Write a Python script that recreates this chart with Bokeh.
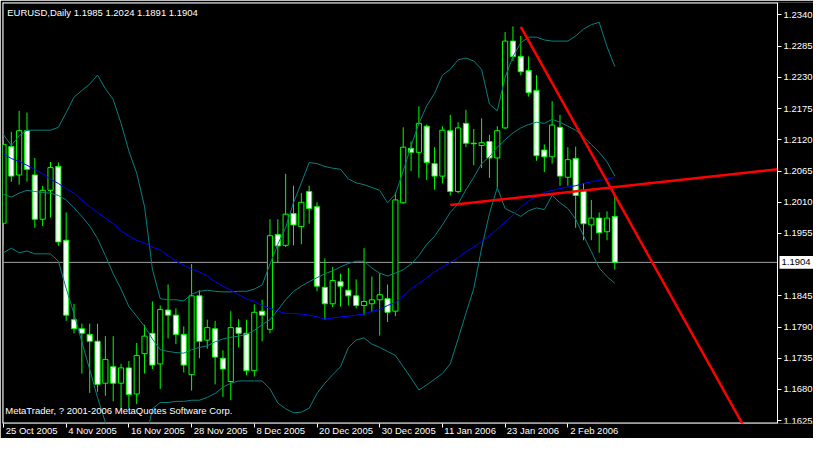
from bokeh.plotting import figure
from bokeh.models import (ColumnDataSource, FixedTicker, PrintfTickFormatter, Label,
                          Range1d)
from bokeh.core.properties import value
from bokeh.embed import file_html
from bokeh.resources import INLINE

# ---------------- data (EURUSD daily, 25 Oct 2005 .. 10 Feb 2006) ----------------
OPEN = [1.1973, 1.2108, 1.2058, 1.2136, 1.2058, 1.1980, 1.2031, 1.2073, 1.1943, 1.1803,
        1.1787, 1.1777, 1.1765, 1.1691, 1.1720, 1.1691, 1.1718, 1.1672, 1.1743, 1.1779,
        1.1725, 1.1820, 1.1811, 1.1777, 1.1706, 1.1845, 1.1767, 1.1787, 1.1735, 1.1694,
        1.1789, 1.1779, 1.1713, 1.1818, 1.1786, 1.1953, 1.1934, 1.1990, 1.1967, 1.2029,
        1.2002, 1.1860, 1.1831, 1.1870, 1.1855, 1.1845, 1.1828, 1.1831, 1.1838, 1.1840,
        1.1818, 1.2009, 1.2105, 1.2098, 1.2144, 1.2078, 1.2056, 1.2136, 1.2029, 1.2149,
        1.2114, 1.2110, 1.2117, 1.2088, 1.2141, 1.2294, 1.2267, 1.2242, 1.2207, 1.2102,
        1.2090, 1.2142, 1.2054, 1.2087, 1.2031, 1.1970, 1.1982, 1.1958, 1.1985]
HIGH = [1.2119, 1.2134, 1.2171, 1.2168, 1.2088, 1.2039, 1.2081, 1.2080, 1.1992, 1.1831,
        1.1796, 1.1796, 1.1796, 1.1774, 1.1774, 1.1725, 1.1730, 1.1762, 1.1794, 1.1835,
        1.1828, 1.1865, 1.1823, 1.1791, 1.1901, 1.1855, 1.1803, 1.1801, 1.1749, 1.1818,
        1.1804, 1.1803, 1.1830, 1.1838, 1.1980, 1.1980, 1.2060, 1.2039, 1.2026, 1.2039,
        1.2010, 1.1911, 1.1896, 1.1884, 1.1894, 1.1874, 1.1929, 1.1879, 1.1885, 1.1865,
        1.2027, 1.2142, 1.2117, 1.2179, 1.2147, 1.2107, 1.2144, 1.2164, 1.2151, 1.2173,
        1.2139, 1.2158, 1.2129, 1.2144, 1.2310, 1.2320, 1.2303, 1.2267, 1.2234, 1.2112,
        1.2188, 1.2164, 1.2107, 1.2108, 1.2044, 1.2014, 1.1992, 1.1994, 1.2024]
LOW = [1.1933, 1.2046, 1.2041, 1.2046, 1.1965, 1.1968, 1.1983, 1.1933, 1.1801, 1.1779,
       1.1708, 1.1674, 1.1676, 1.1669, 1.1659, 1.1647, 1.1647, 1.1654, 1.1708, 1.1716,
       1.1681, 1.1770, 1.1760, 1.1710, 1.1678, 1.1735, 1.1752, 1.1689, 1.1667, 1.1661,
       1.1754, 1.1705, 1.1703, 1.1765, 1.1779, 1.1904, 1.1931, 1.1934, 1.1936, 1.1972,
       1.1853, 1.1803, 1.1825, 1.1826, 1.1828, 1.1823, 1.1811, 1.1816, 1.1775, 1.1799,
       1.1809, 1.2007, 1.2065, 1.2053, 1.2049, 1.2032, 1.2043, 1.2022, 1.2026, 1.2107,
       1.2075, 1.2070, 1.2053, 1.2036, 1.2139, 1.2259, 1.2234, 1.2196, 1.2083, 1.2063,
       1.2078, 1.2039, 1.2039, 1.1965, 1.1943, 1.1943, 1.1921, 1.1943, 1.1891]
CLOSE = [1.2112, 1.2056, 1.2136, 1.2068, 1.1980, 1.2031, 1.2071, 1.1940, 1.1811, 1.1787,
         1.1779, 1.1765, 1.1689, 1.1733, 1.1691, 1.1718, 1.1671, 1.1740, 1.1774, 1.1723,
         1.1821, 1.1811, 1.1777, 1.1723, 1.1845, 1.1765, 1.1789, 1.1737, 1.1716, 1.1789,
         1.1779, 1.1713, 1.1816, 1.1811, 1.1951, 1.1933, 1.1989, 1.1970, 1.2010, 1.1999,
         1.1862, 1.1831, 1.1872, 1.1862, 1.1845, 1.1828, 1.1835, 1.1838, 1.1847, 1.1816,
         1.2014, 1.2107, 1.2098, 1.2149, 1.2080, 1.2056, 1.2137, 1.2029, 1.2141, 1.2114,
         1.2113, 1.2115, 1.2088, 1.2136, 1.2294, 1.2267, 1.2240, 1.2203, 1.2092, 1.2090,
         1.2146, 1.2056, 1.2085, 1.2022, 1.1972, 1.1982, 1.1956, 1.1982, 1.1904]

BB_UPPER = [1.2129, 1.2110, 1.2127, 1.2137, 1.2137, 1.2137, 1.2137, 1.2142, 1.2168, 1.2195,
            1.2207, 1.2218, 1.2234, 1.2210, 1.2191, 1.2149, 1.2100, 1.2061, 1.2002, 1.1892,
            1.1840, 1.1838, 1.1838, 1.1836, 1.1848, 1.1853, 1.1855, 1.1853, 1.1852, 1.1852,
            1.1853, 1.1853, 1.1857, 1.1864, 1.1901, 1.1936, 1.1965, 1.2009, 1.2044, 1.2080,
            1.2078, 1.2073, 1.2070, 1.2068, 1.2051, 1.2044, 1.2041, 1.2036, 1.2031, 1.2009,
            1.2024, 1.2065, 1.2109, 1.2149, 1.2180, 1.2202, 1.2234, 1.2244, 1.2261, 1.2264,
            1.2259, 1.2244, 1.2183, 1.2171, 1.2230, 1.2267, 1.2291, 1.2301, 1.2301, 1.2296,
            1.2294, 1.2294, 1.2294, 1.2303, 1.2315, 1.2323, 1.2327, 1.2284, 1.2249]
BB_MIDDLE = [1.2024, 1.2019, 1.2026, 1.2031, 1.2029, 1.2027, 1.2026, 1.2022, 1.2014, 1.2000,
             1.1985, 1.1968, 1.1946, 1.1916, 1.1884, 1.1857, 1.1826, 1.1809, 1.1791, 1.1769,
             1.1750, 1.1747, 1.1745, 1.1744, 1.1750, 1.1754, 1.1757, 1.1764, 1.1769, 1.1772,
             1.1774, 1.1777, 1.1784, 1.1794, 1.1803, 1.1820, 1.1838, 1.1853, 1.1862, 1.1870,
             1.1877, 1.1884, 1.1889, 1.1896, 1.1902, 1.1906, 1.1906, 1.1894, 1.1885, 1.1880,
             1.1885, 1.1891, 1.1901, 1.1916, 1.1936, 1.1950, 1.1970, 1.1992, 1.2007, 1.2032,
             1.2054, 1.2078, 1.2090, 1.2107, 1.2120, 1.2132, 1.2141, 1.2147, 1.2151, 1.2149,
             1.2156, 1.2151, 1.2144, 1.2137, 1.2125, 1.2112, 1.2098, 1.2081, 1.2056]
BB_LOWER = [1.1921, 1.1929, 1.1921, 1.1924, 1.1919, 1.1919, 1.1919, 1.1906, 1.1858, 1.1813,
            1.1764, 1.1715, 1.1666, 1.1622, 1.1576, 1.1564, 1.1553, 1.1558, 1.1580, 1.1646,
            1.1657, 1.1657, 1.1659, 1.1659, 1.1661, 1.1661, 1.1666, 1.1673, 1.1684, 1.1691,
            1.1695, 1.1695, 1.1695, 1.1695, 1.1681, 1.1656, 1.1646, 1.1639, 1.1640, 1.1647,
            1.1673, 1.1691, 1.1706, 1.1720, 1.1754, 1.1767, 1.1771, 1.1760, 1.1754, 1.1747,
            1.1740, 1.1720, 1.1700, 1.1679, 1.1688, 1.1698, 1.1708, 1.1725, 1.1769, 1.1814,
            1.1858, 1.1929, 1.1990, 1.2036, 1.1999, 1.1992, 1.1985, 1.1995, 1.2000, 1.1997,
            1.2022, 1.2009, 1.1999, 1.1980, 1.1951, 1.1923, 1.1894, 1.1879, 1.1867]
MA = [1.2095, 1.2087, 1.2082, 1.2075, 1.2068, 1.2060, 1.2051, 1.2043, 1.2034, 1.2026,
      1.2014, 1.2002, 1.1992, 1.1982, 1.1972, 1.1960, 1.1950, 1.1943, 1.1938, 1.1931,
      1.1926, 1.1916, 1.1906, 1.1899, 1.1892, 1.1887, 1.1880, 1.1870, 1.1862, 1.1855,
      1.1847, 1.1840, 1.1835, 1.1828, 1.1823, 1.1818, 1.1814, 1.1814, 1.1813, 1.1811,
      1.1808, 1.1804, 1.1806, 1.1808, 1.1809, 1.1811, 1.1813, 1.1818, 1.1821, 1.1828,
      1.1833, 1.1845, 1.1857, 1.1867, 1.1877, 1.1887, 1.1896, 1.1904, 1.1912, 1.1923,
      1.1931, 1.1941, 1.1951, 1.1963, 1.1975, 1.1987, 1.2002, 1.2012, 1.2021, 1.2027,
      1.2031, 1.2034, 1.2037, 1.2039, 1.2043, 1.2046, 1.2049, 1.2051, 1.2054]

TICK_BARS = [0, 8, 16, 24, 32, 40, 48, 56, 64, 72]
TICK_LABELS = ["25 Oct 2005", "4 Nov 2005", "16 Nov 2005", "28 Nov 2005", "8 Dec 2005",
               "20 Dec 2005", "30 Dec 2005", "11 Jan 2006", "23 Jan 2006", "2 Feb 2006"]
PRICE_TICKS = [1.1625, 1.1680, 1.1735, 1.1790, 1.1845, 1.1955, 1.2010, 1.2065,
               1.2120, 1.2175, 1.2230, 1.2285, 1.2340]

# user-drawn trend lines: (bar, price) anchors
TREND_DOWN = [(66.0, 1.2319), (94.25, 1.1620)]
TREND_FLAT = [(57.0, 1.2005), (98.75, 1.2068)]

TITLE = "EURUSD,Daily  1.1985 1.2024 1.1891 1.1904"
COPYRIGHT = "MetaTrader, ? 2001-2006 MetaQuotes Software Corp."
BID = CLOSE[-1]

# ---------------- geometry / style ----------------
W, H = 813, 438
BORDER_L, BORDER_T, BORDER_B = 2, 2, 13
SCALE_W = 36                         # width of the price-scale strip
FRAME_W = W - BORDER_L               # frame spans chart + price scale
CHART_W = FRAME_W - SCALE_W
FRAME_H = H - BORDER_T - BORDER_B
X_START, X_END = -0.125, 98.75       # visible bar span of the chart area
Y_BOT, Y_TOP = 1.1620, 1.2362
BAR_PER_PX = (X_END - X_START) / CHART_W
PRICE_PER_PX = (Y_TOP - Y_BOT) / FRAME_H
X_FULL_END = X_START + FRAME_W * BAR_PER_PX

FONT = "Liberation Sans"
FS_PX = 9.5
FS = "%gpx" % FS_PX
LIME = "#00ff00"
TEAL = "#088080"

p = figure(width=W, height=H, x_range=Range1d(X_START, X_FULL_END),
           y_range=Range1d(Y_BOT, Y_TOP), output_backend="svg", toolbar_location=None,
           y_axis_location="right", min_border_left=BORDER_L, min_border_top=BORDER_T,
           min_border_right=0, min_border_bottom=BORDER_B)
p.background_fill_color = "black"
p.border_fill_color = "black"
p.outline_line_color = None
p.grid.visible = False

# --- left-aligned date labels: pad each centred label on the left with no-break spaces
ARIAL_W = {"0": .556, "1": .556, "2": .556, "3": .556, "4": .556, "5": .556, "6": .556,
           "7": .556, "8": .556, "9": .556, " ": .278, "O": .778, "c": .5, "t": .278,
           "N": .722, "o": .556, "v": .5, "D": .722, "e": .556, "J": .5, "a": .556,
           "n": .556, "F": .611, "b": .556}
NBSP_W = 0.278


def left_aligned(text, first=False, gap_px=2.0):
    if first:   # first label is pushed inside the canvas by Bokeh: small indent only
        return "\u00a0\u00a0" + text
    w = sum(ARIAL_W.get(ch, 0.556) for ch in text) * FS_PX
    k = int(round((w + 2 * gap_px) / (NBSP_W * FS_PX)))
    return "\u00a0" * k + text


# axes: price scale pinned to the chart's right edge (inside the frame)
yax = p.yaxis[0]
yax.fixed_location = X_END
yax.ticker = FixedTicker(ticks=PRICE_TICKS)
yax.formatter = PrintfTickFormatter(format="%.4f")
xax = p.xaxis[0]
xax.ticker = FixedTicker(ticks=TICK_BARS)
xax.major_label_overrides = {t: left_aligned(s, first=(i == 0))
                             for i, (t, s) in enumerate(zip(TICK_BARS, TICK_LABELS))}
for ax in (xax, yax):
    ax.axis_line_color = "white"
    ax.major_tick_line_color = "white"
    ax.major_tick_out = 4
    ax.major_tick_in = 0
    ax.minor_tick_line_color = None
    ax.major_label_text_color = "white"
    ax.major_label_text_font = FONT
    ax.major_label_text_font_size = FS
xax.axis_line_color = None
yax.major_label_standoff = 2
xax.major_label_standoff = -3

# chart border (top, left, bottom) drawn on the frame edges
edge = dict(line_color="white", line_width=2)
p.line([X_START, X_END], [Y_TOP, Y_TOP], **edge)
p.line([X_START, X_END], [Y_BOT, Y_BOT], **edge)
p.line([X_START, X_START], [Y_BOT, Y_TOP], **edge)

# bid line under the candles
p.line([X_START, X_END], [BID, BID], line_color="#a0a0a0", line_width=1)

# candles
n = len(OPEN)
idx = list(range(n))
src = ColumnDataSource(dict(
    x=idx, high=HIGH, low=LOW,
    top=[max(o, c) for o, c in zip(OPEN, CLOSE)],
    bottom=[min(o, c) for o, c in zip(OPEN, CLOSE)],
    fill=["white" if c < o else "black" for o, c in zip(OPEN, CLOSE)],
))
p.segment(x0="x", y0="low", x1="x", y1="high", source=src, line_color=LIME, line_width=1)
p.vbar(x="x", top="top", bottom="bottom", width=0.66, source=src,
       fill_color="fill", line_color=LIME, line_width=1)

# indicators
p.line(idx, BB_UPPER, line_color=TEAL, line_width=1)
p.line(idx, BB_MIDDLE, line_color=TEAL, line_width=1)
p.line(idx, BB_LOWER, line_color=TEAL, line_width=1)
p.line(idx, MA, line_color="#0000ff", line_width=1)


# trend lines (rays extended to the chart's right edge)
def ray(pts, x_far):
    (x0, y0), (x1, y1) = pts
    k = (y1 - y0) / (x1 - x0)
    return [x0, x_far], [y0, y0 + k * (x_far - x0)]


xs, ys = ray(TREND_DOWN, X_END)
p.line(xs, ys, line_color="#ff0000", line_width=2.5)
xs, ys = ray(TREND_FLAT, X_END)
p.line(xs, ys, line_color="#ff0000", line_width=2.5)

# bid price box on the price scale
half = 6.5 * PRICE_PER_PX
p.quad(left=[X_END + 2 * BAR_PER_PX], right=[X_FULL_END], bottom=[BID - half],
       top=[BID + half], fill_color="white", line_color=None)
p.text(x=[X_END + 4 * BAR_PER_PX], y=[BID], text=["%.4f" % BID], text_color="black",
       text_font=value(FONT), text_font_size=value(FS), text_baseline="middle",
       text_align="left")

# texts
p.add_layout(Label(x=X_START + 0.6, y=Y_TOP - 0.0008, text=TITLE, text_color="white",
                   text_font=FONT, text_font_size=FS, text_baseline="top"))
p.add_layout(Label(x=X_START + 0.35, y=Y_BOT + 0.0013, text=COPYRIGHT, text_color="white",
                   text_font=FONT, text_font_size=FS, text_baseline="bottom"))

open("out.html", "w").write(file_html(p, INLINE))
